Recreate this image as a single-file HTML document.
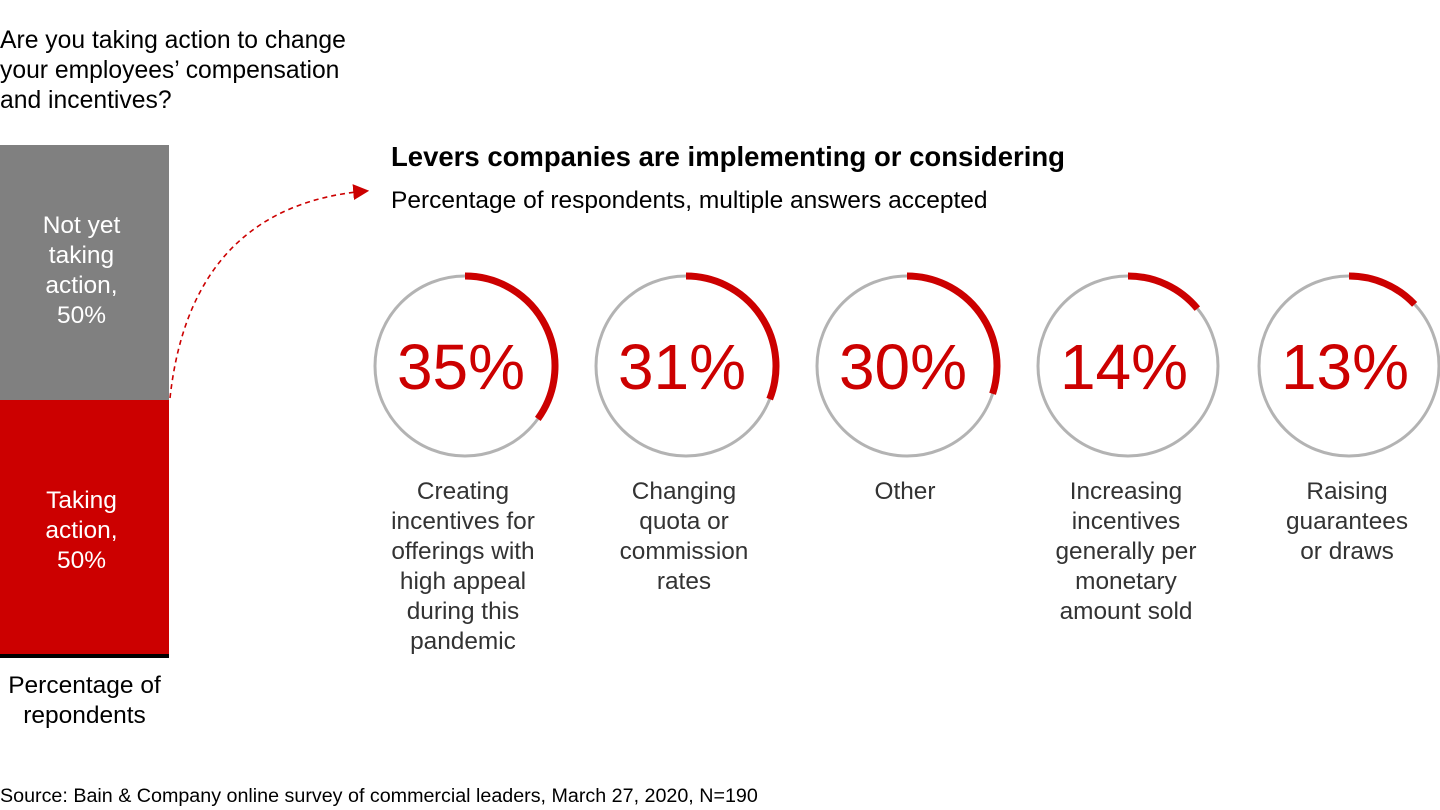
<!DOCTYPE html>
<html><head><meta charset="utf-8">
<style>
body{margin:0;width:1440px;height:810px;background:#fff;font-family:"Liberation Sans",Arial,sans-serif;overflow:hidden;position:relative}
.t{position:absolute;color:#000;white-space:nowrap}
</style></head><body>
<div class="t" style="left:0;top:26px;font-size:24.7px;line-height:30px">Are you taking action to change<br>your employees’ compensation<br>and incentives?</div>
<div style="position:absolute;left:0;top:145px;width:169px;height:255px;background:#808080"></div>
<div style="position:absolute;left:0;top:400px;width:169px;height:254px;background:#cc0000"></div>
<div style="position:absolute;left:0;top:654px;width:169px;height:4px;background:#000"></div>
<div class="t" style="left:0;top:211px;width:163px;text-align:center;color:#fff;font-size:24.5px;line-height:30px">Not yet<br>taking<br>action,<br>50%</div>
<div class="t" style="left:0;top:486px;width:163px;text-align:center;color:#fff;font-size:24.5px;line-height:30px">Taking<br>action,<br>50%</div>
<div class="t" style="left:0;top:671px;width:169px;text-align:center;font-size:24.5px;line-height:30px">Percentage of<br>repondents</div>
<div class="t" style="left:391px;top:141px;font-size:27.5px;font-weight:bold">Levers companies are implementing or considering</div>
<div class="t" style="left:391px;top:187px;font-size:24.5px">Percentage of respondents, multiple answers accepted</div>
<div class="t" style="left:0;top:785px;font-size:19.7px">Source: Bain &amp; Company online survey of commercial leaders, March 27, 2020, N=190</div>
<svg id="s" width="1440" height="810" style="position:absolute;left:0;top:0">
<defs><marker id="ah" markerWidth="10" markerHeight="10" refX="8" refY="5" orient="auto"><path d="M0,0 L10,5 L0,10 z" fill="#cc0000"/></marker></defs>
<path d="M170,398 C185,260 260,200 366,191" fill="none" stroke="#cc0000" stroke-width="1.6" stroke-dasharray="5,4" marker-end="url(#ah)"/>
</svg>
<script>
const categories=["Creating incentives for offerings with high appeal during this pandemic","Changing quota or commission rates","Other","Increasing incentives generally per monetary amount sold","Raising guarantees or draws"];
const labelLines=[["Creating","incentives for","offerings with","high appeal","during this","pandemic"],["Changing","quota or","commission","rates"],["Other"],["Increasing","incentives","generally per","monetary","amount sold"],["Raising","guarantees","or draws"]];
const values=[35,31,30,14,13];
const s=document.getElementById('s');const ns="http://www.w3.org/2000/svg";
const x0=465,dx=221,cy=366,r=90;
function cx(i){return x0+i*dx;}
values.forEach((v,i)=>{
 const c=document.createElementNS(ns,'circle');
 c.setAttribute('cx',cx(i));c.setAttribute('cy',cy);c.setAttribute('r',r);
 c.setAttribute('fill','none');c.setAttribute('stroke','#b3b3b3');c.setAttribute('stroke-width','3');
 
 
 s.appendChild(c);
 const a=v/100*2*Math.PI;
 const ex=cx(i)+r*Math.sin(a),ey=cy-r*Math.cos(a);
 const p=document.createElementNS(ns,'path');
 p.setAttribute('d',`M${cx(i)},${cy-r} A${r},${r} 0 ${v>50?1:0} 1 ${ex},${ey}`);
 p.setAttribute('fill','none');p.setAttribute('stroke','#cc0000');p.setAttribute('stroke-width','7');
 
 
 s.appendChild(p);
 const t=document.createElementNS(ns,'text');
 t.setAttribute('x',cx(i)-4);t.setAttribute('y',cy+23);t.setAttribute('text-anchor','middle');
 t.setAttribute('font-size','64');t.setAttribute('fill','#cc0000');t.setAttribute('font-family','Liberation Sans, sans-serif');
 t.textContent=v+'%';
 
 
 s.appendChild(t);
 labelLines[i].forEach((ln,j)=>{
  const l=document.createElementNS(ns,'text');
  l.setAttribute('x',cx(i)-2);l.setAttribute('y',499+j*30);l.setAttribute('text-anchor','middle');
  l.setAttribute('font-size','24.4');l.setAttribute('fill','#333');l.setAttribute('font-family','Liberation Sans, sans-serif');
  l.textContent=ln;
  
  
  s.appendChild(l);
 });
});
</script>
</body></html>
